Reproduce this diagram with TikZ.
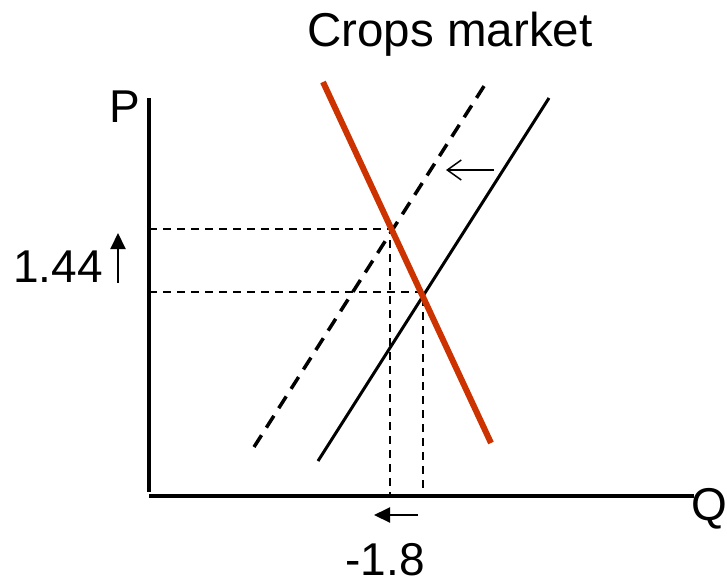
\documentclass[tikz,border=0pt]{standalone}
\usepackage{fontspec}
\setmainfont{Liberation Sans}
\usetikzlibrary{arrows.meta}
\definecolor{demandred}{RGB}{204,51,0}
\begin{document}
\begin{tikzpicture}[x=1pt,y=-1pt,
  lbl/.style={inner sep=0pt,anchor=base,text depth=0pt,font=\fontsize{46}{50}\selectfont},
  axisline/.style={line width=4pt,black},
  demandline/.style={line width=6pt,demandred},
  supplyline/.style={line width=3pt,black},
  shiftedsupply/.style={line width=3.5pt,black,dash pattern=on 14pt off 9pt},
  guide/.style={line width=1.5pt,black,dash pattern=on 8pt off 6pt},
  openarrow/.style={line width=1.5pt,-{Straight Barb[length=14pt,width=20pt]}},
  fillarrow/.style={line width=2pt,-{Triangle[length=16pt,width=15pt]}}]
\useasboundingbox (0,0) rectangle (727,584);
% text
\node[lbl,font=\fontsize{47.5}{52}\selectfont] (title) at (450,46) {Crops market};
\node[lbl] (P) at (125,122) {P};
\node[lbl] (Q) at (709,520) {Q};
\node[lbl] (p144) at (58,282) {1.44};
\node[lbl] (q18) at (385,575) {-1.8};
% axis coordinates
\coordinate (ytop) at (149,98);
\coordinate (ybot) at (149,492);
\coordinate (xl) at (149,496);
\coordinate (xr) at (694,496);
% curves
\coordinate (d1) at (323,82);
\coordinate (d2) at (491,443);
\coordinate (s1) at (318,461);
\coordinate (s2) at (549,98);
\coordinate (t1) at (254,447);
\coordinate (t2) at (486,83);
% equilibria
\coordinate (e1) at (390,229);
\coordinate (e0) at (423,292);
\coordinate (e1y) at (149,229);
\coordinate (e0y) at (149,292);
\coordinate (e1x) at (390,496);
\coordinate (e0x) at (423,496);
% arrows
\coordinate (a1s) at (494,170);
\coordinate (a1e) at (446,170);
\coordinate (a2s) at (118,283);
\coordinate (a2e) at (118,233);
\coordinate (a3s) at (418,515);
\coordinate (a3e) at (374,515);
% guides
\draw[guide] (e1y) -- (e1) -- (e1x);
\draw[guide] (e0y) -- (e0) -- (e0x);
% axes
\draw[axisline] (ytop) -- (ybot);
\draw[axisline] (xl) -- (xr);
% supply curves
\draw[shiftedsupply] (t1) -- (t2);
\draw[supplyline] (s1) -- (s2);
% demand
\draw[demandline] (d1) -- (d2);
% arrows
\draw[openarrow] (a1s) -- (a1e);
\draw[fillarrow] (a2s) -- (a2e);
\draw[fillarrow] (a3s) -- (a3e);
\end{tikzpicture}
\end{document}
